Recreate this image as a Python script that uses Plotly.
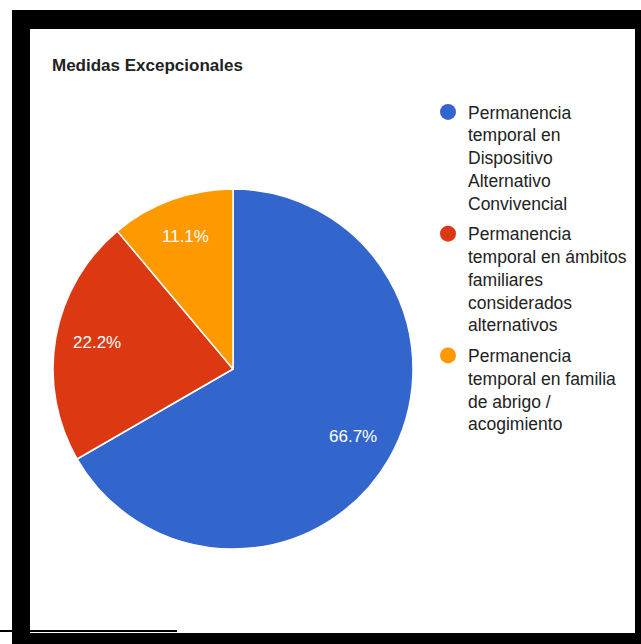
import numpy as np
import plotly.graph_objects as go

W, H = 641, 644

title = "Medidas Excepcionales"
labels = [
    "Permanencia<br>temporal en<br>Dispositivo<br>Alternativo<br>Convivencial",
    "Permanencia<br>temporal en ámbitos<br>familiares<br>considerados<br>alternativos",
    "Permanencia<br>temporal en familia<br>de abrigo /<br>acogimiento",
]
values = [6, 2, 1]
colors = ["#3366CC", "#DC3912", "#FF9900"]

FONT = "Arial, 'Liberation Sans', sans-serif"

def px_x(v):
    return v / W

def px_y(v):
    return 1 - v / H

# pie geometry (pixels)
CX, CY, R = 233, 369, 180

fig = go.Figure()

fig.add_trace(go.Pie(
    labels=labels,
    values=values,
    sort=False,
    direction="clockwise",
    rotation=0,
    marker=dict(colors=colors, line=dict(color="white", width=1.5)),
    textinfo="none",
    domain=dict(x=[px_x(CX - R), px_x(CX + R)], y=[px_y(CY + R), px_y(CY - R)]),
    showlegend=False,
    hoverinfo="label+percent",
))

# percentage labels placed Google-style along each slice's mid angle
vals = np.array(values, dtype=float)
frac = vals / vals.sum()
ends = np.cumsum(frac)
mids = (ends - frac / 2) * 2 * np.pi
annotations = []
for f, a in zip(frac, mids):
    k = 0.77
    x = CX + R * k * np.sin(a)
    y = CY - R * k * np.cos(a) - 2
    annotations.append(dict(
        text=f"{f * 100:.1f}%", x=px_x(x), y=px_y(y), xref="paper", yref="paper",
        xanchor="center", yanchor="middle", showarrow=False,
        font=dict(color="white", size=17, family=FONT),
    ))

for lab, col in zip(labels, colors):
    fig.add_trace(go.Scatter(
        x=[None], y=[None], mode="markers", name=lab, legendgroup=lab,
        marker=dict(symbol="circle", size=16, color=col),
        showlegend=True,
    ))

shapes = []
black = dict(type="rect", xref="paper", yref="paper", fillcolor="black", line=dict(width=0), layer="above")
for x0, y0, x1, y1 in [(12, 10, 641, 29), (12, 10, 30, 644), (635, 10, 641, 644), (12, 633, 641, 644), (0, 630, 177, 632)]:
    shapes.append(dict(black, x0=px_x(x0), x1=px_x(x1), y0=px_y(y1), y1=px_y(y0)))

fig.update_layout(
    width=W, height=H,
    margin=dict(l=0, r=0, t=0, b=0),
    paper_bgcolor="white", plot_bgcolor="white",
    font=dict(family=FONT, color="#222222", size=17),
    title=dict(text="<b>" + title + "</b>", x=px_x(52), xanchor="left", xref="paper",
               y=px_y(65), yanchor="middle", yref="container",
               font=dict(size=17, family=FONT, color="#222222")),
    xaxis=dict(visible=False), yaxis=dict(visible=False),
    legend=dict(x=px_x(428), xanchor="left", y=px_y(94), yanchor="top",
                valign="top", font=dict(size=17.5, family=FONT, color="#222222"),
                tracegroupgap=5, bgcolor="rgba(0,0,0,0)", itemsizing="trace"),
    shapes=shapes,
    annotations=annotations,
)

fig.write_html("out.html", config={"displayModeBar": False},
               post_script="document.body.style.margin='0';")
